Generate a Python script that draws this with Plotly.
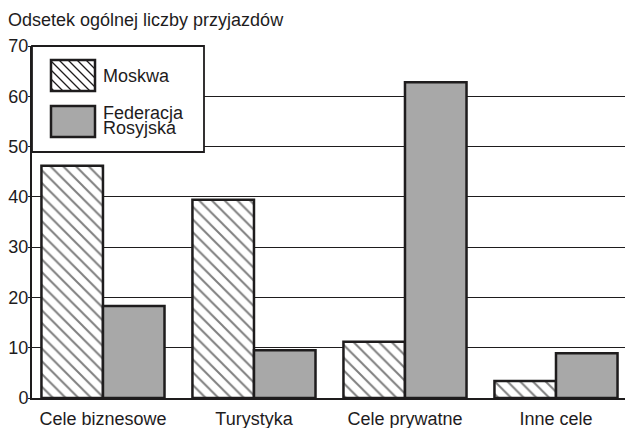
import plotly.graph_objects as go

categories = ["Cele biznesowe", "Turystyka", "Cele prywatne", "Inne cele"]
moskwa = [46.2, 39.4, 11.2, 3.4]
federacja = [18.3, 9.5, 62.8, 8.9]
series_names = ["Moskwa", "Federacja Rosyjska"]
y_ticks = [0, 10, 20, 30, 40, 50, 60, 70]
y_title = "Odsetek ogólnej liczby przyjazdów"

W, H = 625, 428
ML, MR, MT, MB = 32, 0, 46, 30
PW, PH = W - ML - MR, H - MT - MB
INK = "#1e1c1d"
GREY = "#a8a8a8"
FONT = "Liberation Sans, Arial, sans-serif"
FS = 18


def px(x):
    return (x - ML) / PW


def py(y):
    return (H - MB - y) / PH


fig = go.Figure()
fig.add_trace(go.Bar(
    x=categories, y=moskwa, name=series_names[0],
    marker=dict(color="white", line=dict(color=INK, width=2.5),
                pattern=dict(shape="\\", size=9, solidity=0.22,
                             fgcolor="#000000", bgcolor="white")),
    showlegend=False))
fig.add_trace(go.Bar(
    x=categories, y=federacja, name=series_names[1],
    marker=dict(color=GREY, line=dict(color=INK, width=2.5)),
    showlegend=False))

shapes = []
# legend box
shapes.append(dict(type="rect", xref="paper", yref="paper", layer="above",
                   x0=px(32), x1=px(204), y0=py(152), y1=py(46),
                   fillcolor="white", line=dict(color=INK, width=1.8)))
# swatch 1 hatch
sx0, sx1, sy0, sy1 = 51, 95, 60, 91
step = 9
c = sy0 - sx1
while c < sy1 - sx0:
    xa = max(sx0, sy0 - c)
    xb = min(sx1, sy1 - c)
    if xb > xa:
        shapes.append(dict(type="line", xref="paper", yref="paper", layer="above",
                           x0=px(xa), y0=py(xa + c), x1=px(xb), y1=py(xb + c),
                           line=dict(color=INK, width=1.3)))
    c += step
shapes.append(dict(type="rect", xref="paper", yref="paper", layer="above",
                   x0=px(sx0), x1=px(sx1), y0=py(sy1), y1=py(sy0),
                   line=dict(color=INK, width=2.5)))
# swatch 2
shapes.append(dict(type="rect", xref="paper", yref="paper", layer="above",
                   x0=px(51), x1=px(95), y0=py(137), y1=py(106),
                   fillcolor=GREY, line=dict(color=INK, width=2.5)))

annotations = [
    dict(text=y_title, xref="paper", yref="paper", x=px(6), y=py(20),
         xanchor="left", yanchor="middle", showarrow=False,
         font=dict(size=FS, color=INK, family=FONT)),
    dict(text="Moskwa", xref="paper", yref="paper", x=px(101), y=py(76),
         xanchor="left", yanchor="middle", showarrow=False,
         font=dict(size=FS, color=INK, family=FONT)),
    dict(text="Federacja", xref="paper", yref="paper", x=px(101), y=py(113),
         xanchor="left", yanchor="middle", showarrow=False,
         font=dict(size=FS, color=INK, family=FONT)),
    dict(text="Rosyjska", xref="paper", yref="paper", x=px(101), y=py(128),
         xanchor="left", yanchor="middle", showarrow=False,
         font=dict(size=FS, color=INK, family=FONT)),
]

fig.update_layout(
    width=W, height=H,
    margin=dict(l=ML, r=MR, t=MT, b=MB, pad=0),
    paper_bgcolor="white", plot_bgcolor="white",
    barmode="group", bargap=0.185, bargroupgap=0,
    font=dict(family=FONT, size=FS, color=INK),
    shapes=shapes, annotations=annotations,
    showlegend=False,
)
fig.update_xaxes(range=[-0.47, 3.457], showline=True, linecolor=INK, linewidth=2,
                 showgrid=False, ticks="", ticklabelstandoff=3,
                 tickfont=dict(size=FS, color=INK), automargin=False)
fig.update_yaxes(range=[0, 70], tickvals=y_ticks, showline=True, linecolor=INK,
                 linewidth=2, showgrid=True, gridcolor=INK, gridwidth=1,
                 zeroline=False, ticks="outside", ticklen=2, tickcolor=INK,
                 tickwidth=1, ticklabelstandoff=-4, automargin=False,
                 tickfont=dict(size=FS, color=INK))

fig.write_html("out.html", config={"displayModeBar": False},
               post_script="document.body.style.margin='0';document.body.style.overflow='hidden';")
